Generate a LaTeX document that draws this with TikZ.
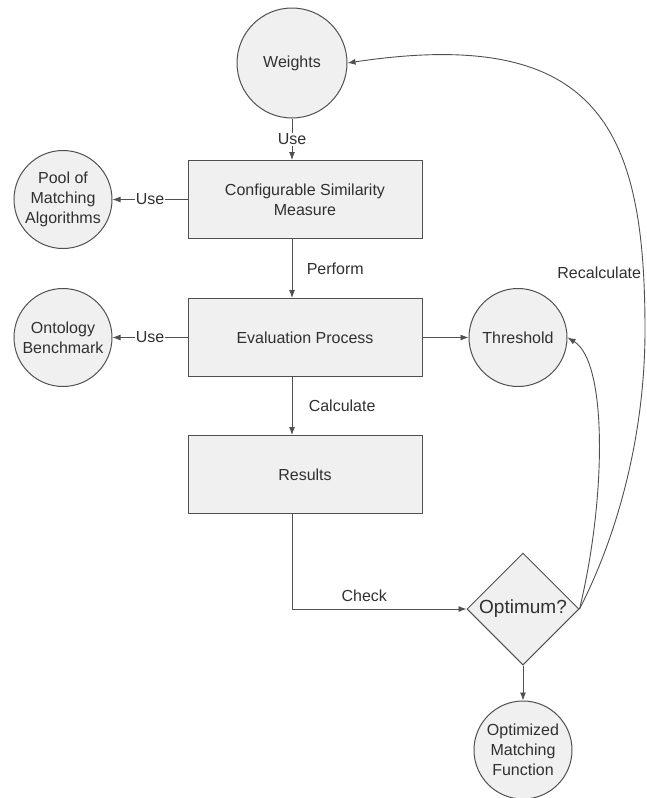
\documentclass[tikz,border=0pt]{standalone}
\usepackage{fontspec}
\setmainfont{Liberation Sans}
\usepackage{tikz}
\usetikzlibrary{positioning}
\usetikzlibrary{shapes.geometric}
\usetikzlibrary{arrows.meta}

\definecolor{linegray}{HTML}{505050}
\definecolor{fillgray}{HTML}{F0F0F0}
\definecolor{textgray}{HTML}{303030}

\tikzset{
  proc/.style={rectangle,draw=linegray,fill=fillgray,line width=1pt,
    minimum width=234pt,minimum height=78pt,align=center},
  store/.style={circle,draw=linegray,fill=fillgray,line width=1pt,
    minimum size=98pt,inner sep=0pt,align=center},
  decide/.style={diamond,draw=linegray,fill=fillgray,line width=1pt,
    minimum width=112pt,minimum height=112pt,inner sep=0pt,
    font=\fontsize{19}{22}\selectfont},
  lbl/.style={fill=white,inner sep=1pt}
}

\begin{document}
\begin{tikzpicture}[->,>={Latex[length=8pt,width=6pt]},x=1pt,y=-1pt,draw=linegray,text=textgray,
    line width=0.9pt,font=\fontsize{16}{20}\selectfont]
\useasboundingbox (0,0) rectangle (647,798);

% main column
\node[proc]   (conf)                   at (305,199.5) {Configurable Similarity\\Measure};
\node[proc]   (eval)   [below=59pt of conf]  {Evaluation Process};
\node[proc]   (res)    [below=58pt of eval]  {Results};
\node[store,minimum size=110pt] (weights) at (292,63) {Weights};

% side nodes
\node[store]  (pool)   [left=75pt of conf]   {Pool of\\Matching\\Algorithms};
\node[store]  (bench)  [left=75pt of eval]   {Ontology\\Benchmark};
\node[store]  (thresh) [right=46pt of eval]  {Threshold};
\node[decide] (opt)    at (523,609)          {Optimum?};
\node[store]  (func)   at (523,750)          {Optimized\\Matching\\Function};

\draw (weights) -- node[lbl] {Use} (weights |- conf.north);
\draw (conf.west) -- node[lbl] {Use} (pool.east);
\draw (eval.west) -- node[lbl] {Use} (bench.east);
\draw (conf.south -| weights) -- node[right=11pt] {Perform} (eval.north -| weights);
\draw (eval.south -| weights) -- node[right=13pt] {Calculate} (res.north -| weights);
\draw (eval.east) -- (thresh);
\draw (res.south -| weights) |- node[pos=0.707,above=4pt] {Check} (opt.west);
\draw (opt) -- (func);

% feedback loops
\draw (opt.east) .. controls (606,500) and (608,362) .. (thresh.east);
\draw (opt.east) .. controls (620,530) and (645,430) .. (645,330)
      .. controls (645,130) and (600,25) .. node[pos=0.1,left,inner sep=2pt] {Recalculate} (weights.east);

\end{tikzpicture}
\end{document}
